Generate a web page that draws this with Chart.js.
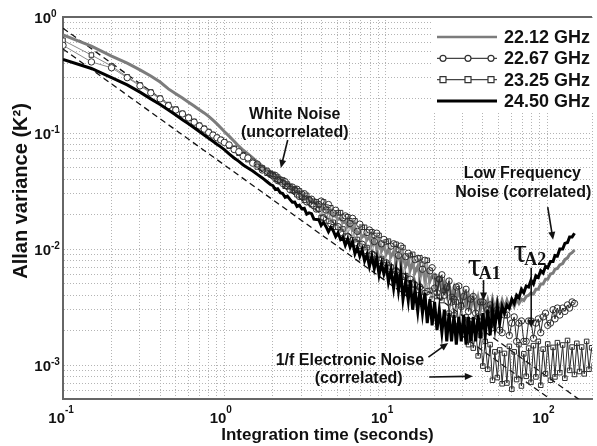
<!DOCTYPE html>
<html>
<head>
<meta charset="utf-8">
<script src="https://cdn.jsdelivr.net/npm/chart.js@4.4.1/dist/chart.umd.min.js"></script>
<style>
  html, body { margin: 0; padding: 0; background: #fff; }
  canvas { display: block; }
</style>
</head>
<body>
<canvas id="allanChart" width="597" height="446"></canvas>
<script>
// integration times (seconds), shared by all four channels
const tau = [0.1,0.15,0.2,0.25,0.3,0.35,0.4,0.45,0.5,0.55,0.6,0.65,0.7,0.75,0.8,0.85,0.9,0.95,1.0,
  1.07,1.15,1.23,1.31,1.4,1.5,1.6,1.72,1.84,1.93,
  2.00,2.07,2.14,2.22,2.30,2.38,2.46,2.55,2.64,2.73,
  2.82,2.92,3.02,3.13,3.24,3.35,3.47,3.59,3.72,3.85,
  3.98,4.12,4.27,4.42,4.57,4.73,4.90,5.07,5.25,5.43,
  5.62,5.82,6.02,6.23,6.45,6.68,6.91,7.15,7.40,7.66,
  7.93,8.21,8.50,8.80,9.10,9.42,9.75,10.1,10.4,10.8,
  11.2,11.6,12.0,12.4,12.8,13.3,13.8,14.2,14.7,15.2,
  15.8,16.3,16.9,17.5,18.1,18.8,19.4,
  20.1,20.8,21.5,22.3,23.1,23.9,24.7,25.6,26.5,27.4,
  28.4,29.4,30.4,31.5,32.6,33.7,34.9,36.1,37.4,38.7,
  40.0,41.4,42.9,44.4,45.9,47.5,49.2,50.9,52.7,54.5,
  56.4,58.4,60.5,62.6,64.8,67.0,69.4,71.8,74.3,76.9,
  79.6,82.4,85.3,88.3,91.4,94.6,97.9,101,105,109,
  112,116,120,125,129,134,138,143,148,
  153,159,164,170,176,182,189,196];

// Allan variance (K^2) per channel
const var2212 = [0.70,0.56,0.46,0.40,0.35,0.31,0.275,0.240,0.218,0.200,0.184,0.171,0.159,0.149,0.139,0.129,0.120,0.111,0.103,
  0.094,0.085,0.077,0.071,0.066,0.061,0.056,0.052,0.048,0.046,
  0.0445,0.0436,0.0413,0.0408,0.0386,0.0382,0.0362,0.0358,0.0339,0.0335,
  0.0324,0.0306,0.0304,0.0287,0.0285,0.0268,0.0267,0.0252,0.0251,0.0236,
  0.0236,0.0221,0.0220,0.0206,0.0207,0.0193,0.0193,0.0180,0.0182,0.0169,
  0.0172,0.0156,0.0162,0.0146,0.0152,0.0136,0.0141,0.0127,0.0133,0.0120,
  0.0128,0.0109,0.0119,0.0102,0.0112,0.0096,0.0106,0.0091,0.0099,0.0086,
  0.0095,0.0079,0.0090,0.0075,0.0086,0.0071,0.0080,0.0066,0.0076,0.0063,
  0.0071,0.0059,0.0067,0.0055,0.0064,0.0053,0.0059,
  0.0060,0.0047,0.0056,0.0044,0.0052,0.0041,0.0050,0.0038,0.0046,0.0037,
  0.0044,0.0035,0.0042,0.0033,0.0040,0.0031,0.0039,0.0030,0.0038,0.0030,
  0.0037,0.0030,0.0036,0.0029,0.0037,0.0030,0.0036,0.0030,0.0036,0.0031,
  0.0036,0.0031,0.0036,0.0032,0.0037,0.0034,0.0037,0.0036,0.0039,0.0040,
  0.0042,0.0041,0.0045,0.0045,0.0050,0.0050,0.0055,0.0055,0.0061,0.0062,
  0.0067,0.0068,0.0073,0.0075,0.0081,0.0084,0.0090,0.0093,0.0098];

const var2267 = [0.57,0.41,0.365,0.30,0.255,0.222,0.197,0.172,0.158,0.146,0.135,0.124,0.115,0.108,0.101,0.096,0.091,0.087,0.083,
  0.079,0.072,0.069,0.063,0.061,0.055,0.054,0.048,0.047,0.044,
  0.0428,0.0431,0.0389,0.0396,0.0368,0.0381,0.0348,0.0326,0.0342,0.0322,
  0.0328,0.0284,0.0298,0.0300,0.0255,0.0265,0.0269,0.0236,0.0221,0.0242,
  0.0259,0.0186,0.0217,0.0242,0.0165,0.0204,0.0216,0.0156,0.0138,0.0186,
  0.0193,0.0128,0.0166,0.0184,0.0113,0.0142,0.0164,0.0110,0.0097,0.0139,
  0.0146,0.0090,0.0116,0.0137,0.0080,0.0111,0.0121,0.0076,0.0068,0.0106,
  0.0111,0.0065,0.0088,0.0106,0.0058,0.0086,0.0092,0.0055,0.0050,0.0081,
  0.0083,0.0047,0.0067,0.0080,0.0043,0.0065,0.0069,
  0.0046,0.0042,0.0055,0.0060,0.0040,0.0047,0.0053,0.0035,0.0037,0.0047,
  0.0048,0.0032,0.0039,0.0045,0.0029,0.0037,0.0039,0.0028,0.0026,0.0035,
  0.0035,0.0023,0.0030,0.0033,0.0021,0.0028,0.0030,0.0020,0.0019,0.0027,
  0.0027,0.0018,0.0023,0.0026,0.0016,0.0023,0.0024,0.0016,0.0016,0.0024,
  0.0024,0.0017,0.0023,0.0025,0.0019,0.0026,0.0028,0.0022,0.0023,0.0030,
  0.0025,0.0031,0.0027,0.0031,0.0029,0.0033,0.0031,0.0035,0.0034];

const var2325 = [0.63,0.47,0.378,0.305,0.26,0.226,0.2,0.176,0.161,0.148,0.137,0.126,0.117,0.110,0.103,0.097,0.092,0.088,0.084,
  0.077,0.074,0.067,0.065,0.059,0.057,0.051,0.050,0.045,0.045,
  0.0441,0.0402,0.0417,0.0380,0.0394,0.0348,0.0363,0.0347,0.0319,0.0332,
  0.0294,0.0317,0.0280,0.0263,0.0290,0.0270,0.0241,0.0258,0.0255,0.0221,
  0.0187,0.0255,0.0230,0.0174,0.0227,0.0170,0.0154,0.0205,0.0206,0.0149,
  0.0129,0.0190,0.0175,0.0120,0.0175,0.0121,0.0106,0.0154,0.0154,0.0103,
  0.0088,0.0141,0.0131,0.0082,0.0131,0.0083,0.0073,0.0115,0.0117,0.0070,
  0.0061,0.0110,0.0099,0.0058,0.0103,0.0059,0.0051,0.0088,0.0090,0.0049,
  0.0044,0.0084,0.0074,0.0042,0.0080,0.0044,0.0037,
  0.0058,0.0039,0.0055,0.0036,0.0044,0.0046,0.0028,0.0039,0.0027,0.0035,
  0.0022,0.0033,0.0020,0.0026,0.0015,0.0024,0.0014,0.0020,0.0012,0.0018,
  0.00098,0.0016,0.00092,0.0015,0.00074,0.0013,0.00078,0.00135,0.00069,0.00126,
  0.0007,0.00145,0.00062,0.0013,0.00075,0.0015,0.00066,0.00125,0.0008,0.0014,
  0.00071,0.00147,0.00079,0.0016,0.00067,0.00137,0.00084,0.00152,0.00074,0.00142,
  0.00079,0.00156,0.00086,0.00149,0.00077,0.00163,0.0009,0.00143,0.00083,
  0.00154,0.00088,0.00143,0.00084,0.0016,0.00092,0.00141,0.00099];

const var2450 = [0.43,0.36,0.30,0.26,0.225,0.197,0.176,0.158,0.143,0.130,0.120,0.111,0.103,0.096,0.090,0.085,0.080,0.076,0.072,
  0.066,0.061,0.057,0.053,0.050,0.047,0.044,0.041,0.038,0.036,
  0.0352,0.0326,0.0331,0.0306,0.0301,0.0279,0.0286,0.0268,0.0253,0.0254,
  0.0233,0.0239,0.0222,0.0225,0.0200,0.0205,0.0202,0.0181,0.0180,0.0179,
  0.0160,0.0170,0.0156,0.0141,0.0154,0.0144,0.0128,0.0138,0.0121,0.0126,
  0.0108,0.0122,0.0104,0.0116,0.0091,0.0103,0.0087,0.0099,0.0079,0.0090,
  0.0071,0.0087,0.0068,0.0084,0.0060,0.0075,0.0061,0.0072,0.0052,0.0066,
  0.0046,0.0065,0.0044,0.0063,0.0037,0.0053,0.0036,0.0054,0.0030,0.0045,
  0.0029,0.0044,0.0028,0.0042,0.0023,0.0037,0.0022,
  0.0035,0.0020,0.0030,0.0019,0.0030,0.0016,0.0028,0.0016,0.0027,0.0015,
  0.0026,0.0016,0.0027,0.0015,0.0026,0.0016,0.0026,0.0016,0.0027,0.0017,
  0.0028,0.0018,0.0030,0.0018,0.0030,0.0021,0.0032,0.0023,0.0032,0.0028,
  0.0033,0.0031,0.0037,0.0034,0.0040,0.0038,0.0045,0.0042,0.0048,0.0047,
  0.0054,0.0050,0.0059,0.0057,0.0065,0.0062,0.0071,0.0069,0.0078,0.0078,
  0.0088,0.0087,0.0100,0.0100,0.0112,0.0114,0.0127,0.0127,0.0137];

// white-noise reference lines (dashed)
const refTau = [0.1, 190];
const whiteRefA = [0.8, 0.00042];
const whiteRefB = [0.53, 0.00028];

const seriesNames = ['22.12 GHz', '22.67 GHz', '23.25 GHz', '24.50 GHz'];
const xDecades = [-1, 0, 1, 2];
const yDecades = [0, -1, -2, -3];

// text notes and arrows, placed in data coordinates
const notes = [
  { text: 'White Noise', x: 2.73, y: 0.143 },
  { text: '(uncorrelated)', x: 2.73, y: 0.1 },
  { text: 'Low Frequency', x: 70.3, y: 0.0443 },
  { text: 'Noise (correlated)', x: 71.3, y: 0.0304 },
  { text: '1/f Electronic Noise', x: 6.0, y: 0.0011 },
  { text: '(correlated)', x: 6.8, y: 0.00077 }
];
const arrows = [
  [2.47, 0.087, 2.24, 0.050],
  [101, 0.023, 109, 0.012],
  [40.4, 0.0054, 40.4, 0.0036],
  [79.8, 0.0069, 79.8, 0.0021],
  [18.4, 0.00117, 24.4, 0.00155],
  [18.6, 0.00079, 34.7, 0.00080]
];
const tauMarks = [
  { sub: 'A1', x: 32.3, y: 0.00585 },
  { sub: 'A2', x: 61.8, y: 0.0077 }
];

const SANS = '"Liberation Sans", Arial, sans-serif';
const SERIF = '"Liberation Serif", "Times New Roman", serif';

function pts(xs, ys) {
  return ys.map((v, i) => ({ x: xs[i], y: v }));
}

function isOneFive(v) {
  const m = v / Math.pow(10, Math.floor(Math.log10(v) + 1e-9));
  return Math.abs(m - 1.5) < 0.01;
}

function gridColor(ctx) {
  if (!ctx.tick || isOneFive(ctx.tick.value)) return 'rgba(0,0,0,0)';
  return '#b4b4b4';
}

// open markers: white inside where sparse, see-through where they pile up
function markerFill(ctx) {
  return ctx.raw && ctx.raw.x > 1.5 ? 'rgba(255,255,255,0)' : '#ffffff';
}
function thinSegment(ctx) {
  return ctx.p0.parsed.x > 20 ? '#2a2a2a' : '#8a8a8a';
}

function arrow(ctx, x1, y1, x2, y2) {
  const a = Math.atan2(y2 - y1, x2 - x1);
  const len = 8, w = 3.5;
  ctx.beginPath();
  ctx.moveTo(x1, y1);
  ctx.lineTo(x2 - Math.cos(a) * len * 0.8, y2 - Math.sin(a) * len * 0.8);
  ctx.stroke();
  ctx.beginPath();
  ctx.moveTo(x2, y2);
  ctx.lineTo(x2 - Math.cos(a) * len - Math.sin(a) * w, y2 - Math.sin(a) * len + Math.cos(a) * w);
  ctx.lineTo(x2 - Math.cos(a) * len + Math.sin(a) * w, y2 - Math.sin(a) * len - Math.cos(a) * w);
  ctx.closePath();
  ctx.fill();
}

// notes, arrows, tau markers and the legend box
const overlayPlugin = {
  id: 'overlay',
  afterDatasetsDraw(chart) {
    const { ctx, chartArea, scales: { x, y } } = chart;
    ctx.save();
    ctx.fillStyle = '#111';
    ctx.strokeStyle = '#111';
    ctx.lineWidth = 1.6;
    ctx.font = 'bold 16px ' + SANS;
    ctx.textAlign = 'center';
    ctx.textBaseline = 'middle';
    notes.forEach(n => ctx.fillText(n.text, x.getPixelForValue(n.x), y.getPixelForValue(n.y)));
    arrows.forEach(a => arrow(ctx, x.getPixelForValue(a[0]), y.getPixelForValue(a[1]),
      x.getPixelForValue(a[2]), y.getPixelForValue(a[3])));

    ctx.textAlign = 'left';
    ctx.textBaseline = 'alphabetic';
    tauMarks.forEach(t => {
      const px = x.getPixelForValue(t.x), py = y.getPixelForValue(t.y);
      ctx.font = '34px ' + SERIF;
      ctx.fillText('τ', px, py);
      const w = ctx.measureText('τ').width;
      ctx.font = 'bold 18px ' + SERIF;
      ctx.fillText(t.sub, px + w * 0.8, py + 3);
    });

    // legend
    const lx = chartArea.right - 159, ly = chartArea.top + 1;
    ctx.fillStyle = '#fff';
    ctx.fillRect(lx, ly, 160, 95);
    ctx.font = 'bold 18px ' + SANS;
    ctx.textBaseline = 'middle';
    chart.data.datasets.slice(0, 4).forEach((ds, i) => {
      const ry = ly + 19 + i * 21.3;
      ctx.strokeStyle = ds.legendColor;
      ctx.lineWidth = ds.legendWidth;
      ctx.beginPath();
      ctx.moveTo(lx + 4, ry);
      ctx.lineTo(lx + 64, ry);
      ctx.stroke();
      if (ds.pointStyle === 'circle' || ds.pointStyle === 'rect') {
        [lx + 10, lx + 35, lx + 58].forEach(mx => {
          ctx.fillStyle = '#fff';
          ctx.strokeStyle = '#333';
          ctx.lineWidth = 1.2;
          ctx.beginPath();
          if (ds.pointStyle === 'circle') ctx.arc(mx, ry, 3, 0, Math.PI * 2);
          else ctx.rect(mx - 3, ry - 3, 6, 6);
          ctx.fill();
          ctx.stroke();
        });
      }
      ctx.fillStyle = '#111';
      ctx.fillText(seriesNames[i], lx + 71, ry + 1);
    });
    ctx.restore();
  },
  afterDraw(chart) {
    const { ctx, chartArea, scales: { x, y } } = chart;
    ctx.save();
    // top frame line
    ctx.strokeStyle = '#666';
    ctx.lineWidth = 2;
    ctx.beginPath();
    ctx.moveTo(chartArea.left, chartArea.top);
    ctx.lineTo(chartArea.right, chartArea.top);
    ctx.stroke();
    // decade tick labels with superscripts
    ctx.fillStyle = '#111';
    ctx.textBaseline = 'alphabetic';
    xDecades.forEach(e => {
      const px = x.getPixelForValue(Math.pow(10, e));
      ctx.font = 'bold 15px ' + SANS;
      ctx.textAlign = 'right';
      ctx.fillText('10', px + 2, chartArea.bottom + 24);
      ctx.font = 'bold 10px ' + SANS;
      ctx.textAlign = 'left';
      ctx.fillText(e < 0 ? '-' + (-e) : String(e), px + 2, chartArea.bottom + 14);
    });
    yDecades.forEach(e => {
      const py = y.getPixelForValue(Math.pow(10, e));
      ctx.font = 'bold 15px ' + SANS;
      ctx.textAlign = 'right';
      ctx.fillText('10', 51, py + 6);
      ctx.font = 'bold 10px ' + SANS;
      ctx.textAlign = 'left';
      ctx.fillText(e < 0 ? '-' + (-e) : String(e), 51, py);
    });
    // y axis title, set a little above the middle as in the figure
    ctx.translate(27, 191);
    ctx.rotate(-Math.PI / 2);
    ctx.font = 'bold 20px ' + SANS;
    ctx.textAlign = 'center';
    ctx.fillText('Allan variance (K²)', 0, 0);
    ctx.restore();
  }
};

new Chart(document.getElementById('allanChart'), {
  type: 'line',
  data: {
    datasets: [
      {
        label: seriesNames[0],
        data: pts(tau, var2212),
        borderColor: '#7c7c7c', borderWidth: 3, pointRadius: 0,
        legendColor: '#7c7c7c', legendWidth: 2.5, order: 3
      },
      {
        label: seriesNames[1],
        data: pts(tau, var2267),
        borderColor: '#8a8a8a', borderWidth: 1,
        segment: { borderColor: thinSegment },
        pointStyle: 'circle', pointRadius: 3.2, pointBorderWidth: 1,
        pointBorderColor: '#2e2e2e', pointBackgroundColor: markerFill,
        legendColor: '#444', legendWidth: 1.2, order: 1
      },
      {
        label: seriesNames[2],
        data: pts(tau, var2325),
        borderColor: '#8a8a8a', borderWidth: 1,
        segment: { borderColor: thinSegment },
        pointStyle: 'rect', pointRadius: 3.2, pointBorderWidth: 1,
        pointBorderColor: '#2e2e2e', pointBackgroundColor: markerFill,
        legendColor: '#444', legendWidth: 1.2, order: 2
      },
      {
        label: seriesNames[3],
        data: pts(tau, var2450),
        borderColor: '#000', borderWidth: 3, pointRadius: 0,
        legendColor: '#000', legendWidth: 3, order: 0
      },
      {
        label: 'white A',
        data: pts(refTau, whiteRefA),
        borderColor: '#111', borderWidth: 1.3, borderDash: [6, 4], pointRadius: 0, order: 4
      },
      {
        label: 'white B',
        data: pts(refTau, whiteRefB),
        borderColor: '#111', borderWidth: 1.3, borderDash: [6, 4], pointRadius: 0, order: 4
      }
    ]
  },
  options: {
    responsive: false,
    animation: false,
    devicePixelRatio: 1,
    layout: { padding: { top: 17, right: 0, left: 0, bottom: 0 } },
    plugins: { legend: { display: false }, tooltip: { enabled: false } },
    scales: {
      x: {
        type: 'logarithmic',
        min: 0.1, max: 190,
        afterFit: s => { s.height = 47; },
        ticks: { display: false },
        grid: { color: gridColor, lineWidth: 1, drawTicks: false },
        border: { display: true, color: '#666', width: 2, dash: [1, 2] },
        title: {
          display: true, text: 'Integration time (seconds)', color: '#111',
          font: { family: SANS, size: 17, weight: 'bold' }, padding: { top: 0, bottom: 0 }
        }
      },
      y: {
        type: 'logarithmic',
        min: 0.00051, max: 1,
        afterFit: s => { s.width = 63; },
        ticks: { display: false },
        grid: { color: gridColor, lineWidth: 1, drawTicks: false },
        border: { display: true, color: '#666', width: 2, dash: [1, 2] },
        title: { display: false }
      }
    }
  },
  plugins: [overlayPlugin]
});
</script>
</body>
</html>
